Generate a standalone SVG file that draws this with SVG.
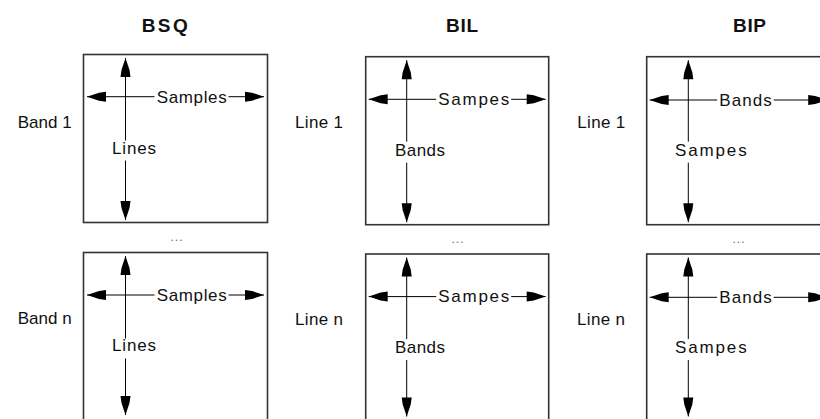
<svg xmlns="http://www.w3.org/2000/svg" width="820" height="419" viewBox="0 0 820 419">
<style>
text{font-family:"Liberation Sans",Arial,sans-serif;fill:#111}
.t{font-size:19px;font-weight:bold}
.l{font-size:17px}
.d{font-size:12px;fill:#666;letter-spacing:1px}
.box{fill:#fff;stroke:#333;stroke-width:1.6}
.ax{stroke:#000;stroke-width:1;fill:none}
.s{marker-start:url(#ah)}
.e{marker-end:url(#ah)}
</style>
<defs>
<marker id="ah" markerUnits="userSpaceOnUse" orient="auto-start-reverse" viewBox="-20 -6 21 12" refX="0" refY="0" markerWidth="21" markerHeight="12">
<path d="M0,0 L-12,-4 L-19,-5 L-19,5 L-12,4 Z" fill="#000"/>
</marker>
</defs>
<rect width="820" height="419" fill="#fff"/>
<g id="titles">
<text class="t" x="141.7" y="32" textLength="46" lengthAdjust="spacing">BSQ</text>
<text class="t" x="446" y="32" textLength="32" lengthAdjust="spacing">BIL</text>
<text class="t" x="733" y="32" textLength="33" lengthAdjust="spacing">BIP</text>
</g>
<g id="row-labels">
<text class="l" x="71.7" y="127.5" text-anchor="end" textLength="54" lengthAdjust="spacing">Band 1</text>
<text class="l" x="71.7" y="324" text-anchor="end" textLength="54" lengthAdjust="spacing">Band n</text>
<text class="l" x="295" y="127.5" textLength="48" lengthAdjust="spacing">Line 1</text>
<text class="l" x="295" y="325" textLength="48" lengthAdjust="spacing">Line n</text>
<text class="l" x="577.3" y="127.5" textLength="48" lengthAdjust="spacing">Line 1</text>
<text class="l" x="577" y="325" textLength="48" lengthAdjust="spacing">Line n</text>
<text class="d" x="177" y="241" text-anchor="middle">...</text>
<text class="d" x="458" y="243" text-anchor="middle">...</text>
<text class="d" x="739" y="243" text-anchor="middle">...</text>
</g>
<g id="bsq-band1" transform="translate(83.5,54.5)">
<rect class="box" width="184" height="168"/>
<g class="connectors">
<line class="ax s" x1="42" y1="3.5" x2="42" y2="86"/>
<line class="ax e" x1="42" y1="106" x2="42" y2="165.5"/>
<line class="ax s" x1="3.5" y1="42.2" x2="71" y2="42.2"/>
<line class="ax e" x1="145" y1="42.2" x2="180.5" y2="42.2"/>
</g>
<text class="l" x="73.2" y="48" textLength="70" lengthAdjust="spacing">Samples</text>
<text class="l" x="28.5" y="99.6" textLength="44" lengthAdjust="spacing">Lines</text>
</g>
<g id="bsq-bandn" transform="translate(83.5,252.5)">
<rect class="box" width="184" height="168"/>
<g class="connectors">
<line class="ax s" x1="42" y1="3.5" x2="42" y2="86"/>
<line class="ax e" x1="42" y1="106" x2="42" y2="162.5"/>
<line class="ax s" x1="3.5" y1="42.5" x2="71" y2="42.5"/>
<line class="ax e" x1="145" y1="42.5" x2="180.5" y2="42.5"/>
</g>
<text class="l" x="73.2" y="48.3" textLength="70" lengthAdjust="spacing">Samples</text>
<text class="l" x="28.5" y="98.3" textLength="44" lengthAdjust="spacing">Lines</text>
</g>
<g id="bil-line1" transform="translate(365.7,56.7)">
<rect class="box" width="183" height="168"/>
<g class="connectors">
<line class="ax s" x1="41" y1="3.5" x2="41" y2="85"/>
<line class="ax e" x1="41" y1="106" x2="41" y2="165.5"/>
<line class="ax s" x1="3" y1="42.6" x2="70.5" y2="42.6"/>
<line class="ax e" x1="145.5" y1="42.6" x2="180" y2="42.6"/>
</g>
<text class="l" x="72.6" y="48.4" textLength="71" lengthAdjust="spacing">Sampes</text>
<text class="l" x="29.3" y="99.1" textLength="50" lengthAdjust="spacing">Bands</text>
</g>
<g id="bil-linen" transform="translate(365.7,254)">
<rect class="box" width="183" height="168"/>
<g class="connectors">
<line class="ax s" x1="41" y1="3.5" x2="41" y2="85"/>
<line class="ax e" x1="41" y1="106" x2="41" y2="162.5"/>
<line class="ax s" x1="3" y1="42.6" x2="70.5" y2="42.6"/>
<line class="ax e" x1="145.5" y1="42.6" x2="180" y2="42.6"/>
</g>
<text class="l" x="72.6" y="48.4" textLength="71" lengthAdjust="spacing">Sampes</text>
<text class="l" x="29.3" y="99.1" textLength="50" lengthAdjust="spacing">Bands</text>
</g>
<g id="bip-line1" transform="translate(646.7,56.7)">
<rect class="box" width="184" height="168"/>
<g class="connectors">
<line class="ax s" x1="41.6" y1="3.5" x2="41.6" y2="85"/>
<line class="ax e" x1="41.6" y1="106" x2="41.6" y2="165.5"/>
<line class="ax s" x1="3" y1="43.3" x2="70.5" y2="43.3"/>
<line class="ax e" x1="127" y1="43.3" x2="180.5" y2="43.3"/>
</g>
<text class="l" x="72.6" y="49.1" textLength="52.4" lengthAdjust="spacing">Bands</text>
<text class="l" x="28.3" y="99.1" textLength="71.7" lengthAdjust="spacing">Sampes</text>
</g>
<g id="bip-linen" transform="translate(646.7,254)">
<rect class="box" width="184" height="168"/>
<g class="connectors">
<line class="ax s" x1="41.6" y1="3.5" x2="41.6" y2="85"/>
<line class="ax e" x1="41.6" y1="106" x2="41.6" y2="162.5"/>
<line class="ax s" x1="3" y1="43.3" x2="70.5" y2="43.3"/>
<line class="ax e" x1="127" y1="43.3" x2="180.5" y2="43.3"/>
</g>
<text class="l" x="72.6" y="49.1" textLength="52.4" lengthAdjust="spacing">Bands</text>
<text class="l" x="28.3" y="99.1" textLength="71.7" lengthAdjust="spacing">Sampes</text>
</g>
</svg>
